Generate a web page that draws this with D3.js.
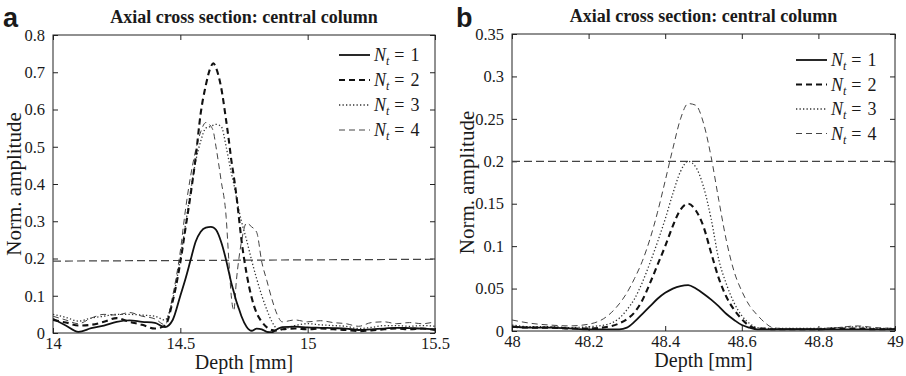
<!DOCTYPE html>
<html>
<head>
<meta charset="utf-8">
<script src="https://cdn.jsdelivr.net/npm/d3@7"></script>
<style>
  body { margin: 0; background: #fff; }
  svg text { fill: #1a1a1a; }
</style>
</head>
<body>
<svg id="chart" width="906" height="376"></svg>
<script>
// ---- panel a ----
const depthA = [14.00, 14.05, 14.10, 14.15, 14.20, 14.25, 14.30, 14.35, 14.40, 14.44, 14.47,
  14.50, 14.52, 14.54, 14.56, 14.58, 14.60, 14.62, 14.63, 14.64, 14.66, 14.68, 14.69, 14.70,
  14.71, 14.72, 14.73, 14.74, 14.76, 14.78, 14.80, 14.82, 14.84, 14.86, 14.88, 14.90,
  14.95, 15.00, 15.05, 15.10, 15.15, 15.20, 15.25, 15.30, 15.35, 15.40, 15.45, 15.50]
const n1A = [.038, .02, .003, .013, .02, .03, .034, .03, .027, .016, .035,
  .10, .145, .195, .245, .272, .283, .285, .283, .277, .245, .195, .165, .135,
  .11, .085, .065, .045, .017, .006, .012, .01, .003, .002, .01, .016,
  .017, .015, .014, .013, .012, .008, .01, .012, .014, .013, .012, .01]
const n2A = [.035, .028, .02, .022, .03, .04, .03, .022, .012, .02, .085,
  .19, .28, .37, .47, .59, .665, .715, .724, .712, .66, .57, .52, .465,
  .42, .37, .31, .25, .16, .095, .053, .03, .015, .008, .006, .01,
  .012, .01, .012, .01, .008, .005, .007, .01, .012, .01, .012, .008]
const n3A = [.05, .042, .032, .04, .045, .05, .05, .048, .045, .035, .09,
  .2, .29, .38, .46, .515, .55, .555, .558, .56, .555, .5, .465, .43,
  .4, .365, .33, .3, .25, .195, .145, .1, .062, .03, .012, .01,
  .02, .025, .022, .02, .018, .012, .015, .02, .02, .018, .02, .018]
const n4A = [.045, .035, .025, .04, .05, .048, .055, .045, .038, .022, .1,
  .22, .33, .42, .49, .54, .565, .555, .54, .5, .41, .31, .2, .1,
  .06, .14, .2, .245, .295, .285, .27, .19, .14, .09, .05, .03,
  .035, .03, .033, .028, .025, .018, .028, .03, .025, .028, .025, .03]
const thrDepthA = [14, 15.5]
const thrA = [0.193, 0.198]
const xTicksA = [14, 14.5, 15, 15.5]
const yTicksA = [0, 0.1, 0.2, 0.3, 0.4, 0.5, 0.6, 0.7, 0.8]

// ---- panel b ----
const depthB = [48.00, 48.05, 48.10, 48.15, 48.20, 48.25, 48.28, 48.30, 48.32, 48.34, 48.36,
  48.38, 48.40, 48.42, 48.44, 48.46, 48.48, 48.50, 48.52, 48.54, 48.56, 48.58, 48.60,
  48.62, 48.64, 48.66, 48.68, 48.70, 48.75, 48.80, 48.85, 48.90, 48.95, 49.00]
const n1B = [.005, .004, .004, .003, .002, .002, .002, .004, .011, .02, .029,
  .038, .045, .05, .053, .054, .05, .044, .037, .029, .02, .013, .007,
  .004, .002, .002, .002, .002, .002, .002, .002, .002, .002, .002]
const n2B = [.005, .004, .004, .003, .003, .005, .009, .014, .022, .036, .056,
  .078, .1, .124, .143, .15, .142, .123, .092, .062, .04, .025, .014,
  .006, .003, .003, .002, .002, .002, .002, .003, .003, .002, .002]
const n3B = [.007, .005, .005, .004, .005, .008, .015, .025, .038, .057, .08,
  .105, .132, .162, .188, .2, .193, .17, .132, .084, .055, .033, .018,
  .009, .004, .003, .003, .003, .003, .003, .004, .005, .003, .003]
const n4B = [.013, .009, .007, .006, .008, .018, .032, .045, .062, .082, .108,
  .14, .177, .215, .25, .268, .266, .245, .205, .154, .106, .07, .047,
  .03, .019, .01, .004, .003, .003, .003, .004, .006, .004, .003]
const thrDepthB = [48, 49]
const thrB = [0.2, 0.2]
const xTicksB = [48, 48.2, 48.4, 48.6, 48.8, 49]
const yTicksB = [0, 0.05, 0.1, 0.15, 0.2, 0.25, 0.3, 0.35]

const legendNums = ["1", "2", "3", "4"]

// line styles for N_t = 1..4
const styles = [
  { color: "#111", width: 1.8, dash: null },
  { color: "#111", width: 2.1, dash: "6,4" },
  { color: "#333", width: 1.3, dash: "1.3,2.2" },
  { color: "#444", width: 1, dash: "6,4" }
]

const svg = d3.select("#chart")
const serif = "'Liberation Serif', 'Times New Roman', serif"

function panel(opt) {
  const w = opt.width, h = opt.height
  const g = svg.append("g").attr("transform", "translate(" + [opt.left, opt.top] + ")")

  const x = d3.scaleLinear().domain(opt.xDomain).range([0, w])
  const y = d3.scaleLinear().domain(opt.yDomain).range([h, 0])

  const clipId = "clip-" + opt.name
  g.append("clipPath").attr("id", clipId)
    .append("rect").attr("width", w).attr("height", h)

  // axes, MATLAB style: ticks inward on all sides
  g.append("g").attr("class", "ax")
    .attr("transform", "translate(0," + h + ")")
    .call(d3.axisBottom(x).tickValues(opt.xTicks).tickFormat(d => String(d)).tickSizeInner(-5).tickSizeOuter(0).tickPadding(4))
  g.append("g").attr("class", "ax")
    .call(d3.axisTop(x).tickValues(opt.xTicks).tickFormat("").tickSizeInner(-5).tickSizeOuter(0))
  g.append("g").attr("class", "ax")
    .call(d3.axisLeft(y).tickValues(opt.yTicks).tickFormat(d => String(d)).tickSizeInner(-5).tickSizeOuter(0).tickPadding(opt.yPad))
  g.append("g").attr("class", "ax")
    .attr("transform", "translate(" + w + ",0)")
    .call(d3.axisRight(y).tickValues(opt.yTicks).tickFormat("").tickSizeInner(-5).tickSizeOuter(0))

  g.selectAll(".ax .domain").remove()
  g.selectAll(".ax line").attr("stroke", "#222")
  g.selectAll(".ax").attr("font-family", null).attr("font-size", null)
  g.selectAll(".ax text").style("font-family", serif).style("font-size", "16.5px").attr("fill", "#1a1a1a")

  g.append("rect").attr("width", w).attr("height", h)
    .attr("fill", "none").attr("stroke", "#222").attr("stroke-width", 1)

  const plot = g.append("g").attr("clip-path", "url(#" + clipId + ")")

  // threshold line
  const thr = opt.thrDepth.map((d, i) => [d, opt.thr[i]])
  plot.append("path")
    .datum(thr)
    .attr("fill", "none")
    .attr("stroke", "#444")
    .attr("stroke-width", 1.2)
    .attr("stroke-dasharray", "8,4")
    .attr("d", d3.line().x(d => x(d[0])).y(d => y(d[1])))

  const line = d3.line()
    .x(d => x(d[0]))
    .y(d => y(d[1]))
    .curve(d3.curveMonotoneX)

  // draw N=4 first so the heavier lines sit on top
  for (let k = opt.series.length - 1; k >= 0; k--) {
    const vals = opt.series[k]
    const s = styles[k]
    plot.append("path")
      .datum(opt.depth.map((d, i) => [d, vals[i]]))
      .attr("fill", "none")
      .attr("stroke", s.color)
      .attr("stroke-width", s.width)
      .attr("stroke-dasharray", s.dash)
      .attr("stroke-linejoin", "round")
      .attr("d", line)
  }

  // legend
  const lg = g.append("g").attr("transform", "translate(" + [opt.legX, opt.legY] + ")")
  legendNums.forEach((n, i) => {
    const s = styles[i]
    const row = lg.append("g").attr("transform", "translate(0," + (i * opt.legStep) + ")")
    row.append("line")
      .attr("x1", 0).attr("x2", 31).attr("y1", 0).attr("y2", 0)
      .attr("stroke", s.color).attr("stroke-width", s.width)
      .attr("stroke-dasharray", s.dash)
    const t = row.append("text")
      .attr("x", 35).attr("y", 6)
      .style("font-family", serif).style("font-size", "18px")
    t.append("tspan").style("font-style", "italic").text("N")
    t.append("tspan").style("font-style", "italic").style("font-size", "12px").attr("dy", 4).text("t")
    t.append("tspan").attr("dy", -4).attr("dx", 5).text("=")
    t.append("tspan").attr("dx", 6).text(n)
  })

  // titles and labels
  g.append("text")
    .attr("x", w / 2).attr("y", -12)
    .attr("text-anchor", "middle")
    .style("font-family", serif).style("font-size", "18px").style("font-weight", "bold")
    .text("Axial cross section: central column")

  g.append("text")
    .attr("x", w / 2).attr("y", h + 36)
    .attr("text-anchor", "middle")
    .style("font-family", serif).style("font-size", "20px")
    .text("Depth [mm]")

  g.append("text")
    .attr("transform", "rotate(-90)")
    .attr("x", -h / 2).attr("y", opt.yLabelX)
    .attr("text-anchor", "middle")
    .style("font-family", serif).style("font-size", "21px")
    .text("Norm. amplitude")

  svg.append("text")
    .attr("x", opt.tagX).attr("y", 27)
    .style("font-family", "'Liberation Sans', Arial, sans-serif")
    .style("font-size", "27px").style("font-weight", "bold")
    .text(opt.name)
}

panel({
  name: "a", left: 53, top: 35, width: 382, height: 298,
  xDomain: [14, 15.5], yDomain: [0, 0.8],
  xTicks: xTicksA, yTicks: yTicksA,
  yPad: 8, yLabelX: -32,
  depth: depthA, series: [n1A, n2A, n3A, n4A],
  thrDepth: thrDepthA, thr: thrA,
  legX: 286, legY: 20, legStep: 25,
  tagX: 3
})

panel({
  name: "b", left: 512, top: 34, width: 383, height: 297,
  xDomain: [48, 49], yDomain: [0, 0.35],
  xTicks: xTicksB, yTicks: yTicksB,
  yPad: 8, yLabelX: -38,
  depth: depthB, series: [n1B, n2B, n3B, n4B],
  thrDepth: thrDepthB, thr: thrB,
  legX: 284, legY: 26, legStep: 24.5,
  tagX: 456
})
</script>
</body>
</html>
